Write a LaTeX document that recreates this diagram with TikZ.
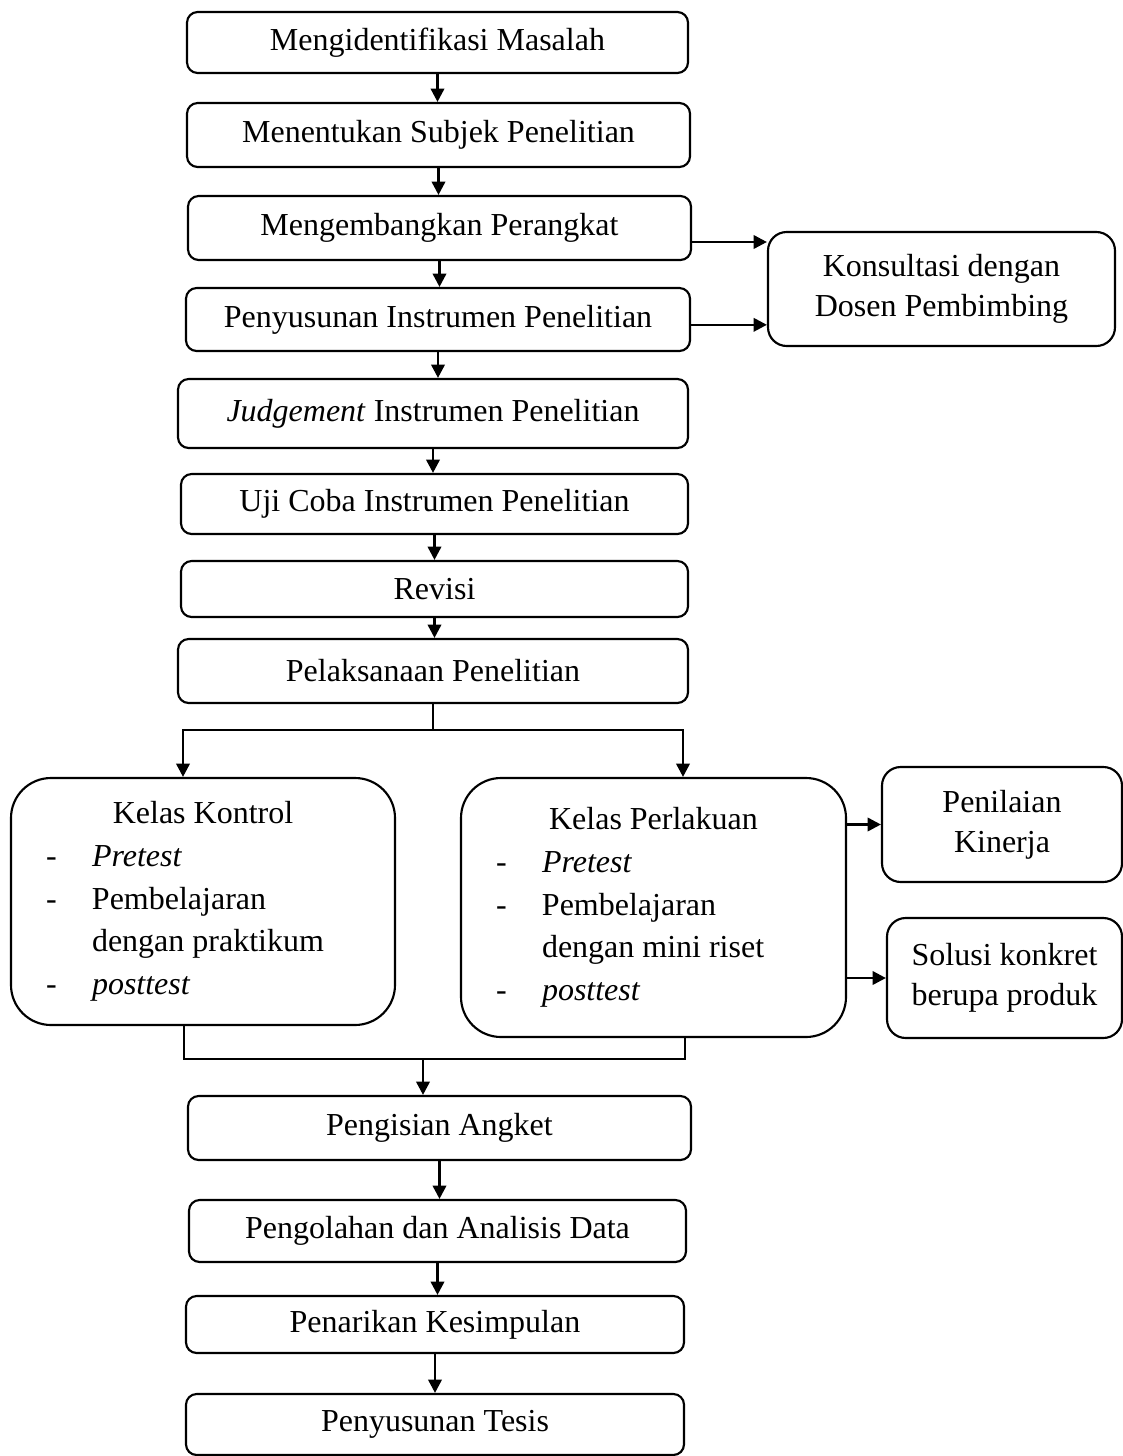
\documentclass[tikz,border=0pt]{standalone}
\usepackage{fontspec}
\setmainfont{Liberation Serif}
\usepackage{tikz}
\usetikzlibrary{arrows.meta,positioning}
\newlength{\pxu}
\setlength{\pxu}{0.375pt}
\newcommand{\classitem}[1]{\hspace*{35\pxu}\makebox[46\pxu][l]{-}#1}
\newcommand{\classindent}{\hspace*{81\pxu}}

\begin{document}
\begin{tikzpicture}[
    x=0.375pt, y=-0.375pt,
    flowstep/.style={rectangle, draw, line width=0.8pt, rounded corners=4pt,
        inner sep=0pt, font=\fontsize{12}{15}\selectfont, align=center},
    sidebox/.style={flowstep, rounded corners=7pt},
    classbox/.style={rectangle, draw, line width=0.8pt, rounded corners=15pt,
        inner sep=0pt, font=\fontsize{12}{16}\selectfont, align=left,
        execute at begin node={\spaceskip=0pt\xspaceskip=0pt}},
    link/.style={line width=1pt},
    >={Triangle[length=5pt,width=5pt]}
]
\useasboundingbox (0,0) rectangle (1123,1456);

% main column
\node[flowstep, minimum width=501*\pxu, minimum height=61*\pxu] (identify) at (437.5,42.5) {Mengidentifikasi Masalah};
\node[flowstep, minimum width=503*\pxu, minimum height=64*\pxu] (subject) at (438.5,135) {Menentukan Subjek Penelitian};
\node[flowstep, minimum width=503*\pxu, minimum height=64*\pxu] (develop) at (439.5,228) {Mengembangkan Perangkat};
\node[flowstep, minimum width=504*\pxu, minimum height=63*\pxu] (compose) at (438,319.5) {Penyusunan Instrumen Penelitian};
\node[flowstep, minimum width=510*\pxu, minimum height=69*\pxu] (judge) at (433,413.5) {\textit{Judgement} Instrumen Penelitian};
\node[flowstep, minimum width=507*\pxu, minimum height=60*\pxu] (trial) at (434.5,504) {Uji Coba Instrumen Penelitian};
\node[flowstep, minimum width=507*\pxu, minimum height=56*\pxu] (revise) at (434.5,589) {Revisi};
\node[flowstep, minimum width=510*\pxu, minimum height=64*\pxu] (conduct) at (433,671) {Pelaksanaan Penelitian};

\node[sidebox, minimum width=347*\pxu, minimum height=114*\pxu] (consult) at (941.5,289) {Konsultasi dengan\\Dosen Pembimbing};

% the two classes
\node[classbox, minimum height=247*\pxu, text width=144pt] (control) at (203,901.5) {%
    \makebox[144pt]{Kelas Kontrol}\\
    \classitem{\textit{Pretest}}\\
    \classitem{Pembelajaran}\\
    \classindent dengan praktikum\\
    \classitem{\textit{posttest}}};
\node[classbox, minimum height=259*\pxu, text width=144.375pt] (treat) at (653.5,907.5) {%
    \makebox[144.375pt]{Kelas Perlakuan}\\
    \classitem{\textit{Pretest}}\\
    \classitem{Pembelajaran}\\
    \classindent dengan mini riset\\
    \classitem{\textit{posttest}}};

\node[sidebox, minimum width=240*\pxu, minimum height=115*\pxu] (rating) at (1002,824.5) {Penilaian\\Kinerja};
\node[sidebox, minimum width=235*\pxu, minimum height=120*\pxu] (solution) at (1004.5,978) {Solusi konkret\\berupa produk};

% after the classes
\node[flowstep, minimum width=503*\pxu, minimum height=64*\pxu] (survey) at (439.5,1128) {Pengisian Angket};
\node[flowstep, minimum width=497*\pxu, minimum height=62*\pxu] (analysis) at (437.5,1231) {Pengolahan dan Analisis Data};
\node[flowstep, minimum width=498*\pxu, minimum height=57*\pxu] (conclude) at (435,1324.5) {Penarikan Kesimpulan};
\node[flowstep, minimum width=498*\pxu, minimum height=61*\pxu] (thesis) at (435,1424.5) {Penyusunan Tesis};

\foreach \a/\b in {identify/subject, subject/develop, develop/compose, compose/judge,
    judge/trial, trial/revise, revise/conduct, survey/analysis, analysis/conclude, conclude/thesis}
    \draw[link, ->] (\a.south) -- (\a.south |- \b.north);

\draw[link, ->] ([yshift=-5.25pt]develop.east) coordinate (d3) -- (d3 -| consult.west);
\draw[link, ->] ([yshift=-2pt]compose.east) coordinate (d4) -- (d4 -| consult.west);

% fork and join
\coordinate (forkL) at (183,730);
\coordinate (forkR) at (683,730);
\draw[link, ->] (conduct.south) |- (forkL) -- (forkL |- control.north);
\draw[link, ->] (conduct.south |- forkR) -- (forkR) -- (forkR |- treat.north);

\coordinate (joinL) at (184,1059);
\coordinate (joinR) at (685,1059);
\coordinate (joinM) at (423,1059);
\draw[link] (control.south -| joinL) -- (joinL) -- (joinR) -- (treat.south -| joinR);
\draw[link, ->] (joinM) -- (joinM |- survey.north);

\draw[link, ->] (rating.west -| treat.east) -- (rating.west);
\draw[link, ->] (solution.west -| treat.east) -- (solution.west);
\end{tikzpicture}
\end{document}
